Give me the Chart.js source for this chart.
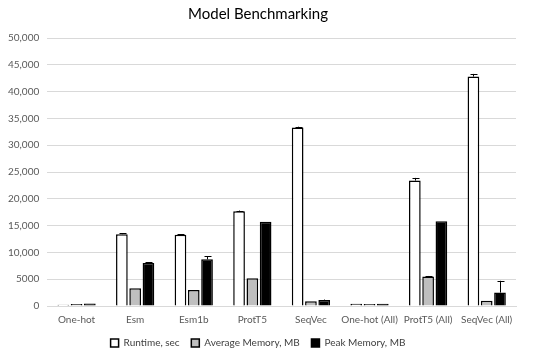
<!DOCTYPE html>
<html>
<head>
<meta charset="utf-8">
<script src="https://cdn.jsdelivr.net/npm/chart.js@4/dist/chart.umd.min.js"></script>
<style>
  html, body { margin: 0; padding: 0; background: #fff; }
  #wrap { width: 550px; height: 352px; }
</style>
</head>
<body>
<div id="wrap"><canvas id="benchChart"></canvas></div>
<script>
// dados
const categorias = ['One-hot', 'Esm', 'Esm1b', 'ProtT5', 'SeqVec', 'One-hot (All)', 'ProtT5 (All)', 'SeqVec (All)'];
const runtime = [250, 13400, 13300, 17700, 33300, 400, 23400, 42800];
const memoriaMedia = [350, 3300, 3000, 5200, 900, 350, 5500, 1000];
const memoriaPico = [450, 8000, 8700, 15700, 1100, 400, 15800, 2500];
// barras de erro (desvio acima do valor)
const erroRuntime = [0, 150, 100, 100, 150, 0, 500, 500];
const erroMedia = [0, 0, 0, 0, 0, 0, 100, 0];
const erroPico = [0, 150, 600, 0, 100, 0, 0, 2200];
const ticksY = [0, 5000, 10000, 15000, 20000, 25000, 30000, 35000, 40000, 45000, 50000];

const erros = [erroRuntime, erroMedia, erroPico];

// plugin simples para desenhar as barras de erro
const errorBars = {
    id: 'errorBars',
    afterDatasetsDraw(chart) {
        const c = chart.ctx;
        const y = chart.scales.y;
        c.save();
        c.strokeStyle = '#000';
        c.lineWidth = 1;
        chart.data.datasets.forEach((ds, i) => {
            const meta = chart.getDatasetMeta(i);
            meta.data.forEach((bar, j) => {
                const e = erros[i][j];
                if (!e) return;
                const y0 = y.getPixelForValue(ds.data[j]);
                const y1 = y.getPixelForValue(ds.data[j] + e);
                const x = Math.round(bar.x) + 0.5;
                c.beginPath();
                c.moveTo(x, y0);
                c.lineTo(x, y1);
                c.moveTo(x - 3, Math.round(y1) + 0.5);
                c.lineTo(x + 4, Math.round(y1) + 0.5);
                c.stroke();
            });
        });
        c.restore();
    }
};

// diminui a altura da legenda para aproximar do eixo
const legendaCompacta = {
    id: 'legendaCompacta',
    beforeInit(chart) {
        const fitOriginal = chart.legend.fit;
        chart.legend.fit = function() {
            fitOriginal.bind(chart.legend)();
            this.height -= 6;
        };
    }
};

const fonte = 'Lato';

const ctx = document.getElementById('benchChart').getContext('2d');
const chart = new Chart(ctx, {
    type: 'bar',
    data: {
        labels: categorias,
        datasets: [{
            label: 'Runtime, sec',
            data: runtime,
            backgroundColor: '#ffffff',
            borderColor: '#000000',
            borderWidth: 1.5
        }, {
            label: 'Average Memory, MB',
            data: memoriaMedia,
            backgroundColor: '#bfbfbf',
            borderColor: '#000000',
            borderWidth: 1.5
        }, {
            label: 'Peak Memory, MB',
            data: memoriaPico,
            backgroundColor: '#000000',
            borderColor: '#000000',
            borderWidth: 1.5
        }]
    },
    options: {
        responsive: true,
        maintainAspectRatio: false,
        animation: false,
        datasets: {
            bar: {
                barPercentage: 0.88,
                categoryPercentage: 0.68
            }
        },
        layout: {
            padding: { left: 0, right: 34, top: 0, bottom: 0 }
        },
        scales: {
            x: {
                grid: { display: false, drawTicks: false },
                border: { color: '#d9d9d9' },
                ticks: {
                    color: '#595959',
                    padding: 8,
                    font: { family: fonte, size: 10 },
                    maxRotation: 0,
                    autoSkip: false
                }
            },
            y: {
                min: 0,
                max: 50000,
                afterBuildTicks: (axis) => {
                    axis.ticks = ticksY.map(v => ({ value: v }));
                },
                grid: { color: '#d9d9d9', drawTicks: false },
                border: { display: false },
                ticks: {
                    color: '#595959',
                    padding: 8,
                    font: { family: fonte, size: 10 },
                    callback: (v) => v >= 10000 ? v.toLocaleString('en-US') : String(v)
                }
            }
        },
        plugins: {
            title: {
                display: true,
                text: 'Model Benchmarking',
                color: '#000',
                font: { family: fonte, size: 15, weight: 'normal' },
                padding: { top: 5, bottom: 15 }
            },
            legend: {
                position: 'bottom',
                labels: {
                    color: '#404040',
                    boxWidth: 8,
                    boxHeight: 8,
                    padding: 4,
                    font: { family: fonte, size: 10 },
                    // espaco extra entre os itens da legenda
                    generateLabels: (chart) => Chart.defaults.plugins.legend.labels.generateLabels(chart)
                        .map((item, i, arr) => {
                            if (i < arr.length - 1) item.text += '   ';
                            return item;
                        })
                }
            },
            tooltip: { enabled: false }
        }
    },
    plugins: [errorBars, legendaCompacta]
});
</script>
</body>
</html>
